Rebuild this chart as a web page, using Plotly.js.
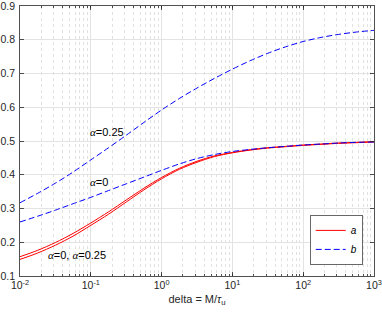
<!DOCTYPE html>
<html>
<head>
<meta charset="utf-8">
<script src="https://cdn.plot.ly/plotly-3.0.1.min.js"></script>
<style>html,body{margin:0;padding:0;background:#fff;}#chart{width:382px;height:318px;}</style>
</head>
<body>
<div id="chart"></div>
<script>
// delta = M/tau_u (read at quarter-decade positions)
const delta = [0.01, 0.0178, 0.0316, 0.0562, 0.1, 0.178, 0.316, 0.562, 1, 1.78, 3.16, 5.62, 10, 17.8, 31.6, 56.2, 100, 178, 316, 562, 1000];
// series a (red, solid)
const aUpper = [0.157, 0.176, 0.199, 0.226, 0.257, 0.290, 0.325, 0.360, 0.392, 0.419, 0.440, 0.456, 0.466, 0.474, 0.480, 0.484, 0.488, 0.491, 0.494, 0.496, 0.498];
const aLower = [0.149, 0.168, 0.191, 0.218, 0.250, 0.283, 0.319, 0.355, 0.388, 0.416, 0.437, 0.454, 0.465, 0.473, 0.479, 0.483, 0.487, 0.490, 0.493, 0.495, 0.497];
// series b (blue, dashed)
const bAlpha0   = [0.260, 0.277, 0.295, 0.314, 0.333, 0.353, 0.373, 0.393, 0.413, 0.432, 0.448, 0.460, 0.469, 0.475, 0.480, 0.484, 0.488, 0.491, 0.494, 0.496, 0.497];
const bAlpha025 = [0.317, 0.345, 0.375, 0.408, 0.444, 0.480, 0.517, 0.555, 0.592, 0.626, 0.657, 0.686, 0.713, 0.738, 0.760, 0.779, 0.795, 0.807, 0.816, 0.823, 0.828];
const legendNames = ['a', 'b'];
const yTicks = [0.1, 0.2, 0.3, 0.4, 0.5, 0.6, 0.7, 0.8, 0.9];
const xTicks = [0.01, 0.1, 1, 10, 100, 1000];
const xTickText = ['10<sup>-2</sup>', '10<sup>-1</sup>', '10<sup>0</sup>', '10<sup>1</sup>', '10<sup>2</sup>', '10<sup>3</sup>'];

const axisColor = '#262626';
const fontFam = 'Liberation Sans, Arial, sans-serif';
const redLine = {color: '#ff0000', width: 1, shape: 'spline', smoothing: 0.8};
const blueLine = {color: '#0000ff', width: 1, dash: '6px,3px', shape: 'spline', smoothing: 0.8};

const traces = [
  {x: delta, y: aUpper, mode: 'lines', line: redLine, name: '<i>' + legendNames[0] + '</i>', legendgroup: 'a'},
  {x: delta, y: aLower, mode: 'lines', line: redLine, showlegend: false, legendgroup: 'a'},
  {x: delta, y: bAlpha0, mode: 'lines', line: blueLine, name: '<i>' + legendNames[1] + '</i>', legendgroup: 'b'},
  {x: delta, y: bAlpha025, mode: 'lines', line: blueLine, showlegend: false, legendgroup: 'b'}
];

const alpha = '<span style="font-family:Liberation Serif"><i>α</i></span>';

const layout = {
  width: 382, height: 318,
  margin: {l: 20, r: 8, t: 6, b: 42},
  paper_bgcolor: '#fff', plot_bgcolor: '#fff',
  font: {family: fontFam, size: 10.5, color: axisColor},
  showlegend: true,
  legend: {
    x: 0.969, y: 0.04, xanchor: 'right', yanchor: 'bottom',
    bgcolor: '#fff', bordercolor: axisColor, borderwidth: 0.7,
    font: {family: fontFam, size: 10, color: '#000'},
    tracegroupgap: 0, itemwidth: 30
  },
  xaxis: {
    type: 'log', range: [-2.0002, 3.0002],
    tickvals: xTicks, ticktext: xTickText,
    showline: true, linecolor: axisColor, linewidth: 0.8, mirror: 'allticks',
    ticks: 'inside', ticklen: 4, tickcolor: axisColor, tickwidth: 0.8,
    showgrid: true, gridcolor: '#e3e3e3', gridwidth: 1,
    minor: {dtick: 'D1', ticks: 'inside', ticklen: 2, tickcolor: axisColor, showgrid: true, gridcolor: '#d4d4d4', griddash: 'dot', gridwidth: 0.7},
    zeroline: false,
    tickfont: {family: fontFam, size: 10.5, color: axisColor},
    title: {text: 'delta = M/<i>τ</i><sub>u</sub>', font: {family: fontFam, size: 11, color: axisColor}, standoff: 4}
  },
  yaxis: {
    range: [0.0998, 0.9002], tickvals: yTicks, tickformat: '.1f',
    showline: true, linecolor: axisColor, linewidth: 0.8, mirror: 'allticks',
    ticks: 'inside', ticklen: 4, tickcolor: axisColor, tickwidth: 0.8,
    showgrid: true, gridcolor: '#e3e3e3', gridwidth: 1,
    zeroline: false,
    tickfont: {family: fontFam, size: 10.5, color: axisColor},
    ticklabelstandoff: 2,
    ticklabeloverflow: 'allow'
  },
  annotations: [
    {x: -1.04, y: 0.527, xref: 'x', yref: 'y', xanchor: 'left', yanchor: 'middle', showarrow: false, text: alpha + '=0.25', font: {family: fontFam, size: 11, color: '#000'}},
    {x: -1.04, y: 0.379, xref: 'x', yref: 'y', xanchor: 'left', yanchor: 'middle', showarrow: false, text: alpha + '=0', font: {family: fontFam, size: 11, color: '#000'}},
    {x: -1.633, y: 0.161, xref: 'x', yref: 'y', xanchor: 'left', yanchor: 'middle', showarrow: false, text: alpha + '=0, ' + alpha + '=0.25', font: {family: fontFam, size: 11, color: '#000'}}
  ]
};

Plotly.newPlot('chart', traces, layout, {displayModeBar: false, staticPlot: true});
</script>
</body>
</html>
